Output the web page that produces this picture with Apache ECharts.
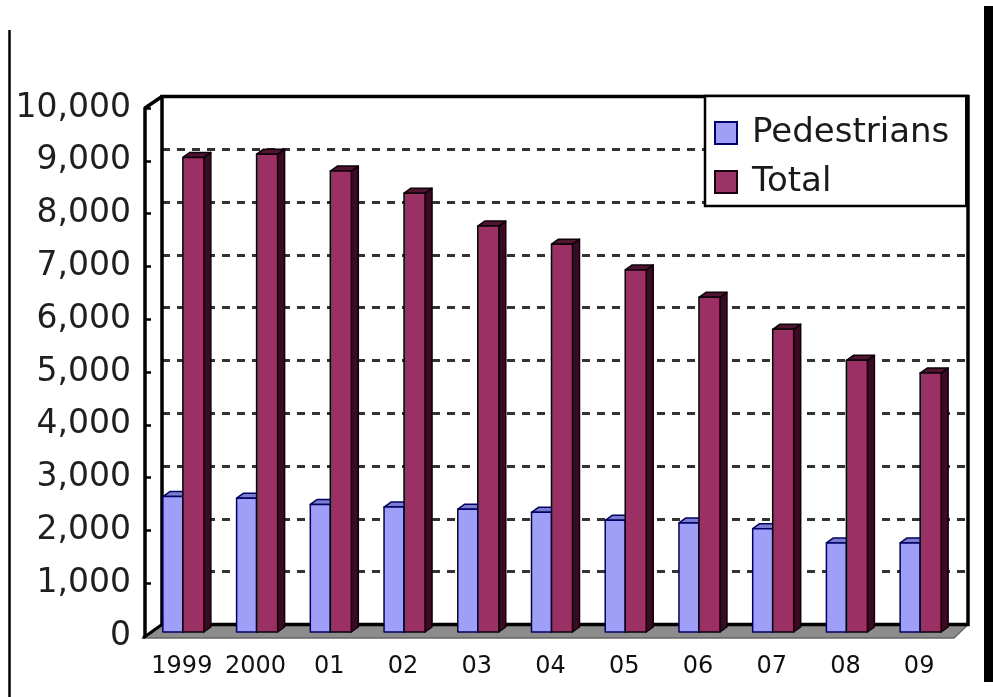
<!DOCTYPE html>
<html>
<head>
<meta charset="utf-8">
<script src="https://cdn.jsdelivr.net/npm/echarts@6/dist/echarts.min.js"></script>
<style>
  html, body { margin: 0; padding: 0; background: #ffffff; }
  #chart { width: 993px; height: 697px; }
</style>
</head>
<body>
<div id="chart"></div>
<script>
// Road traffic deaths per year
const years = ['1999', '2000', '01', '02', '03', '04', '05', '06', '07', '08', '09'];
const pedestrians = [2570, 2540, 2420, 2370, 2330, 2270, 2120, 2070, 1960, 1690, 1690];
const totals = [9006, 9066, 8747, 8326, 7702, 7358, 6871, 6352, 5744, 5155, 4914];
const valueTickLabels = ['0', '1,000', '2,000', '3,000', '4,000', '5,000',
  '6,000', '7,000', '8,000', '9,000', '10,000'];
const seriesNames = ['Pedestrians', 'Total'];

// depth of each 3D column (pixels)
const BAR_DX = 7;
const BAR_DY = 5;

function makeColumn(face, side, topFace, edge, x0off, x1off) {
  return function (params, api) {
    const i = api.value(0);
    const v = api.value(1);
    const pTop = api.coord([i, v]);
    const pBase = api.coord([i, 0]);
    const half = BAR_DY / 2;
    const x0 = pTop[0] + x0off;
    const x1 = pTop[0] + x1off;
    const yT = pTop[1] + half;
    const yB = pBase[1] + half;
    const ls = { stroke: edge, lineWidth: 1.5, lineJoin: 'round' };
    return {
      type: 'group',
      children: [
        { type: 'polygon', shape: { points: [[x1, yT], [x1 + BAR_DX, yT - BAR_DY], [x1 + BAR_DX, yB - BAR_DY], [x1, yB]] },
          style: Object.assign({ fill: side }, ls) },
        { type: 'polygon', shape: { points: [[x0, yT], [x1, yT], [x1 + BAR_DX, yT - BAR_DY], [x0 + BAR_DX, yT - BAR_DY]] },
          style: Object.assign({ fill: topFace }, ls) },
        { type: 'rect', shape: { x: x0, y: yT, width: x1 - x0, height: yB - yT },
          style: Object.assign({ fill: face }, ls) }
      ]
    };
  };
}

const FONT = '"DejaVu Sans", Verdana, sans-serif';

const chart = echarts.init(document.getElementById('chart'), null, { renderer: 'canvas' });

const option = {
  animation: false,
  backgroundColor: '#ffffff',
  grid: [
    // plane through the middle of the columns
    { left: 145, right: 37, top: 102.5, bottom: 67.5 },
    // front plane: value axis and category labels
    { left: 145, right: 37, top: 108, bottom: 61 },
    // back wall with dashed gridlines
    { left: 162, right: 25, top: 96.5, bottom: 72.5 }
  ],
  xAxis: [
    { type: 'category', gridIndex: 0, data: years, show: false },
    { type: 'category', gridIndex: 1, data: years,
      axisLine: { show: false }, axisTick: { show: false },
      axisLabel: { interval: 0, hideOverlap: false, margin: 19, fontSize: 24, fontFamily: FONT, color: '#111111' } },
    { type: 'category', gridIndex: 2, data: years, show: false }
  ],
  yAxis: [
    { type: 'value', gridIndex: 0, min: 0, max: 10000, interval: 1000, show: false },
    { type: 'value', gridIndex: 1, min: 0, max: 10000, interval: 1000,
      axisLine: { show: true, lineStyle: { color: '#000000', width: 3.5 } },
      axisTick: { show: true, inside: true, length: 6, lineStyle: { color: '#000000', width: 2.5 } },
      splitLine: { show: false },
      axisLabel: {
        margin: 14, fontSize: 33, fontFamily: FONT, color: '#1f1f1f',
        formatter: function (v) { return valueTickLabels[Math.round(v / 1000)]; }
      } },
    { type: 'value', gridIndex: 2, min: 0, max: 10000, interval: 1000,
      axisLine: { show: false }, axisTick: { show: false }, axisLabel: { show: false },
      splitLine: { show: true, lineStyle: { color: '#333333', width: 3, type: [8, 7] } } }
  ],
  legend: {
    data: [
      { name: seriesNames[0], itemStyle: { color: '#9f9ff7', borderColor: '#000066', borderWidth: 2 } },
      { name: seriesNames[1], itemStyle: { color: '#993366', borderColor: '#1a0010', borderWidth: 2 } }
    ],
    orient: 'vertical',
    left: 705, top: 96,
    padding: [20, 17, 7, 9],
    itemGap: 15,
    itemWidth: 22, itemHeight: 22,
    icon: 'rect',
    selectedMode: false,
    backgroundColor: '#ffffff',
    borderColor: '#000000', borderWidth: 2.5,
    textStyle: { fontSize: 34, fontFamily: FONT, color: '#1a1a1a', padding: [0, 0, 0, 10] }
  },
  series: [
    {
      name: seriesNames[0], type: 'custom', xAxisIndex: 0, yAxisIndex: 0,
      itemStyle: { color: '#9f9ff7' },
      encode: { x: 0, y: 1 },
      renderItem: makeColumn('#9f9ff7', '#6b6bbf', '#7d7dd0', '#000066', -19, 1),
      data: years.map(function (y, i) { return [i, pedestrians[i]]; }),
      z: 3
    },
    {
      name: seriesNames[1], type: 'custom', xAxisIndex: 0, yAxisIndex: 0,
      itemStyle: { color: '#993366' },
      encode: { x: 0, y: 1 },
      renderItem: makeColumn('#9b3064', '#3a0c24', '#4e1430', '#0d0008', 1, 22),
      data: years.map(function (y, i) { return [i, totals[i]]; }),
      z: 4
    }
  ]
};

chart.setOption(option);

// Walls, floor and frame derived from the laid-out grids
const model = chart.getModel();
const front = model.getComponent('grid', 1).coordinateSystem.getRect();
const back = model.getComponent('grid', 2).coordinateSystem.getRect();
const fB = front.y + front.height + 2;
const bB = back.y + back.height;

chart.setOption({
  graphic: [
    { type: 'polygon', z: 1,
      shape: { points: [[front.x - 2, fB], [front.x + front.width - 2, fB], [back.x + back.width, bB], [back.x, bB]] },
      style: { fill: '#8c8c8c', stroke: '#666666', lineWidth: 1.5 } },
    { type: 'rect', z: 2,
      shape: { x: back.x, y: back.y, width: back.width, height: back.height },
      style: { fill: 'none', stroke: '#000000', lineWidth: 3.5 } },
    { type: 'polyline', z: 2,
      shape: { points: [[front.x, front.y], [back.x, back.y]] },
      style: { stroke: '#000000', lineWidth: 3.5 } },
    { type: 'polyline', z: 2,
      shape: { points: [[front.x - 2, fB], [back.x, bB]] },
      style: { stroke: '#000000', lineWidth: 3 } },
    { type: 'line', z: 5,
      shape: { x1: 9.5, y1: 30, x2: 9.5, y2: 697 },
      style: { stroke: '#000000', lineWidth: 2.5 } },
    { type: 'rect', z: 5,
      shape: { x: 984, y: 6, width: 9, height: 676 },
      style: { fill: '#000000' } }
  ]
});
</script>
</body>
</html>
